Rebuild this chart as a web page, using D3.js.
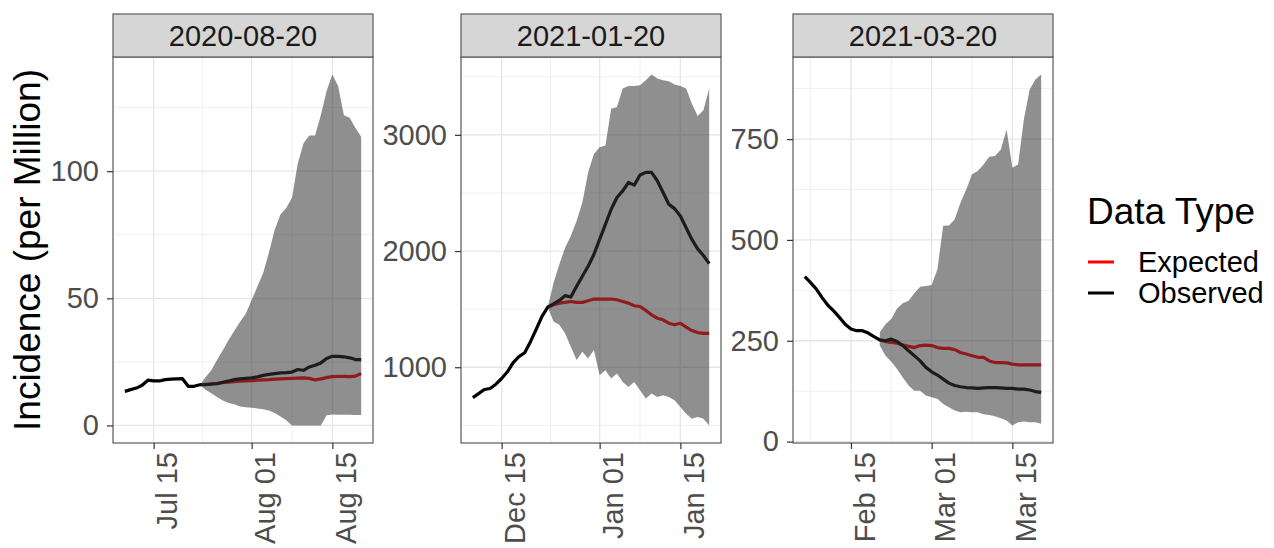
<!DOCTYPE html>
<html><head><meta charset="utf-8">
<script src="https://cdn.jsdelivr.net/npm/d3@7"></script>
<style>
body{margin:0;background:#fff}
svg text{font-family:"Liberation Sans",Arial,Helvetica,sans-serif}
</style>
</head><body>
<svg id="chart" width="1274" height="548"></svg>
<script>
// ---------------- DATA ----------------
const panelTitles = ["2020-08-20", "2021-01-20", "2021-03-20"];
const observedStart = ["2020-07-10", "2020-12-10", "2021-02-07"];
const forecastStart = ["2020-07-23", "2020-12-23", "2021-02-20"];
const seriesNames = ["Expected", "Observed"];
const legendTitle = "Data Type";
const yAxisTitle = "Incidence (per Million)";

const observed1 = [13.4,14.1,14.7,15.8,17.8,17.5,17.5,18.0,18.2,18.3,18.4,15.4,15.4,16.0,16.0,16.2,16.4,17.0,17.5,18.0,18.3,18.5,18.7,19.1,19.7,20.1,20.4,20.7,20.8,21.0,22.0,21.7,23.0,23.7,24.6,26.3,27.2,27.2,27.0,26.6,25.9,25.9];
const expected1 = [16.0,16.2,16.4,16.6,16.8,17.0,17.2,17.4,17.5,17.6,17.8,17.9,18.0,18.2,18.3,18.4,18.5,18.6,18.7,18.5,17.9,18.3,18.8,19.2,19.3,19.3,19.2,19.4,20.4];
const upper1 = [15.8,19,21.7,25.7,29.6,33.6,37.2,40.8,44,49.3,54.6,60,68,77,83,85.5,89.5,103,111,114,114,122,131.5,138,133.5,122,121,117,113.5];
const lower1 = [16,14,12.7,11.2,9.8,8.8,8.3,7.5,7.2,7,6.7,6.4,5.9,4.9,3.5,2,0,0,0,0,0,0,4,4.3,4.2,4.2,4.2,4.1,4.1];

const observed2 = [739,773,808,817,854,903,961,1039,1091,1125,1220,1327,1437,1517,1546,1575,1616,1604,1696,1783,1869,1970,2100,2230,2360,2461,2518,2590,2567,2654,2677,2677,2605,2504,2403,2365,2302,2201,2100,2019,1962,1892];
const expected2 = [1517,1538,1552,1558,1566,1558,1558,1572,1587,1587,1587,1587,1581,1566,1552,1529,1523,1489,1451,1422,1408,1379,1365,1379,1345,1316,1298,1292,1292];
const upper2 = [1517,1725,1884,2028,2129,2259,2417,2677,2836,2893,2908,3225,3239,3398,3421,3421,3427,3470,3519,3485,3470,3461,3433,3421,3398,3268,3162,3211,3398];
const lower2 = [1517,1393,1365,1292,1177,1062,1134,1076,1148,932,975,903,946,874,831,874,802,730,773,744,759,744,716,658,600,557,571,557,499];

const observed3 = [409,394,378,357,338,324,308,291,279,275,275,269,260,252,250,254,248,238,225,213,200,184,173,165,155,145,139,136,134,133,132,133,134,134,133,132,132,130,130,128,124,122];
const expected3 = [252,248,246,244,239,236,233,238,239,238,233,231,231,228,221,217,213,209,209,200,196,196,195,192,190,190,190,190,190];
const upper3 = [271,291,304,330,343,349,368,384,386,388,427,535,536,551,592,625,663,671,687,706,708,724,774,679,687,799,873,898,910];
const lower3 = [238,213,198,180,159,139,126,126,114,110,106,93,85,77,73,74,73,73,68,66,63,58,52,40,48,50,48,48,44];

const yTicks1 = [0, 50, 100];
const yTicks2 = [1000, 2000, 3000];
const yTicks3 = [0, 250, 500, 750];
const xBreaks1 = ["2020-07-01","2020-07-15","2020-08-01","2020-08-15","2020-09-01"];
const xBreaks2 = ["2020-12-01","2020-12-15","2021-01-01","2021-01-15","2021-02-01"];
const xBreaks3 = ["2021-02-01","2021-02-15","2021-03-01","2021-03-15","2021-04-01"];

// ---------------- LAYOUT ----------------
const W = 1274, H = 548;
const panelLeft = [113, 461, 793];
const panelW = 260;
const plotTop = 57, plotBottom = 443, stripTop = 14;
const smallFont = 29, bigFont = 37;
const colExpected = "#FF0000", colObserved = "#000000";

const svg = d3.select("#chart");
const parse = d3.utcParse("%Y-%m-%d");
const fmt = d3.utcFormat("%b %d");

const panelData = [
  {obs: observed1, exp: expected1, up: upper1, lo: lower1, yt: yTicks1, xb: xBreaks1},
  {obs: observed2, exp: expected2, up: upper2, lo: lower2, yt: yTicks2, xb: xBreaks2},
  {obs: observed3, exp: expected3, up: upper3, lo: lower3, yt: yTicks3, xb: xBreaks3}
];

panelData.forEach((p, i) => {
  const L = panelLeft[i], R = L + panelW;
  const s0 = parse(observedStart[i]);
  const f0 = parse(forecastStart[i]);
  const obsPts = p.obs.map((v, k) => ({d: d3.utcDay.offset(s0, k), v}));
  const fcPts = p.exp.map((v, k) => ({d: d3.utcDay.offset(f0, k), v, hi: p.up[k], lo: p.lo[k]}));
  const allDates = obsPts.map(o => o.d).concat(fcPts.map(o => o.d));
  const dMin = d3.min(allDates), dMax = d3.max(allDates);
  const span = dMax - dMin;
  const x = d3.scaleUtc().domain([new Date(+dMin - 0.05 * span), new Date(+dMax + 0.05 * span)]).range([L, R]);
  const allV = p.obs.concat(p.exp, p.up, p.lo);
  const vMin = d3.min(allV), vMax = d3.max(allV), vr = vMax - vMin;
  const y = d3.scaleLinear().domain([vMin - 0.05 * vr, vMax + 0.05 * vr]).range([plotBottom, plotTop]);

  const clipId = "clip" + i;
  svg.append("clipPath").attr("id", clipId).append("rect")
    .attr("x", L).attr("y", plotTop).attr("width", panelW).attr("height", plotBottom - plotTop);

  const g = svg.append("g");
  const inner = g.append("g").attr("clip-path", `url(#${clipId})`);

  // minor y grid
  const step = p.yt[1] - p.yt[0];
  const yMinor = [p.yt[0] - step / 2].concat(p.yt.map(t => t + step / 2))
    .filter(v => v >= y.domain()[0] && v <= y.domain()[1]);
  inner.selectAll(".ymin").data(yMinor).join("line")
    .attr("x1", L).attr("x2", R).attr("y1", d => y(d)).attr("y2", d => y(d))
    .attr("stroke", "#f0f0f0").attr("stroke-width", 1);
  // minor x grid
  const br = p.xb.map(parse);
  const xMinor = d3.pairs(br).map(([a, b]) => new Date((+a + +b) / 2))
    .filter(d => d >= x.domain()[0] && d <= x.domain()[1]);
  inner.selectAll(".xmin").data(xMinor).join("line")
    .attr("x1", d => x(d)).attr("x2", d => x(d)).attr("y1", plotTop).attr("y2", plotBottom)
    .attr("stroke", "#f0f0f0").attr("stroke-width", 1);
  // major grid
  inner.selectAll(".ymaj").data(p.yt).join("line")
    .attr("x1", L).attr("x2", R).attr("y1", d => y(d)).attr("y2", d => y(d))
    .attr("stroke", "#e6e6e6").attr("stroke-width", 1.3);
  const xMajor = br.filter(d => d >= x.domain()[0] && d <= x.domain()[1]);
  inner.selectAll(".xmaj").data(xMajor).join("line")
    .attr("x1", d => x(d)).attr("x2", d => x(d)).attr("y1", plotTop).attr("y2", plotBottom)
    .attr("stroke", "#e6e6e6").attr("stroke-width", 1.3);

  // lines
  const line = d3.line().x(d => x(d.d)).y(d => y(d.v));
  inner.append("path").datum(fcPts).attr("d", line)
    .attr("fill", "none").attr("stroke", colExpected).attr("stroke-width", 3.2)
    .attr("stroke-linejoin", "round").attr("stroke-linecap", "butt");
  inner.append("path").datum(obsPts).attr("d", line)
    .attr("fill", "none").attr("stroke", colObserved).attr("stroke-width", 3.2)
    .attr("stroke-linejoin", "round").attr("stroke-linecap", "butt");

  // ribbon on top (semi-transparent)
  const area = d3.area().x(d => x(d.d)).y0(d => y(d.lo)).y1(d => y(d.hi));
  inner.append("path").datum(fcPts).attr("d", area)
    .attr("fill", "#333333").attr("fill-opacity", 0.55);

  // panel border
  g.append("rect").attr("x", L).attr("y", plotTop).attr("width", panelW).attr("height", plotBottom - plotTop)
    .attr("fill", "none").attr("stroke", "#5a5a5a").attr("stroke-width", 1.2);

  // strip
  g.append("rect").attr("x", L).attr("y", stripTop).attr("width", panelW).attr("height", plotTop - stripTop)
    .attr("fill", "#d6d6d6").attr("stroke", "#5a5a5a").attr("stroke-width", 1.2);
  g.append("text").attr("x", (L + R) / 2).attr("y", (stripTop + plotTop) / 2)
    .attr("text-anchor", "middle").attr("dominant-baseline", "central")
    .attr("font-size", smallFont).attr("fill", "#1a1a1a").text(panelTitles[i]);

  // y axis
  const ya = g.append("g").attr("transform", `translate(${L},0)`)
    .call(d3.axisLeft(y).tickValues(p.yt).tickFormat(d3.format("d")).tickSize(6).tickPadding(8));
  ya.select(".domain").remove();
  ya.selectAll(".tick line").attr("stroke", "#333").attr("stroke-width", 1.2);
  ya.selectAll(".tick text").attr("font-size", smallFont).attr("fill", "#4d4d4d")
    .attr("font-family", "Liberation Sans, Arial, sans-serif");

  // x axis
  const xa = g.append("g").attr("transform", `translate(0,${plotBottom})`)
    .call(d3.axisBottom(x).tickValues(xMajor).tickFormat(fmt).tickSize(6));
  xa.select(".domain").remove();
  xa.selectAll(".tick line").attr("stroke", "#333").attr("stroke-width", 1.2);
  xa.selectAll(".tick text").attr("font-size", smallFont).attr("fill", "#4d4d4d")
    .attr("font-family", "Liberation Sans, Arial, sans-serif")
    .attr("transform", "rotate(-90)").attr("x", -9).attr("y", 0).attr("dy", "0.8em")
    .attr("text-anchor", "end");
});

// y axis title
svg.append("text").attr("transform", `translate(40,${(plotTop + plotBottom) / 2}) rotate(-90)`)
  .attr("text-anchor", "middle").attr("font-size", bigFont).attr("fill", "#000").text(yAxisTitle);

// legend
const lg = svg.append("g");
lg.append("text").attr("x", 1087).attr("y", 224).attr("font-size", bigFont).attr("fill", "#000").text(legendTitle);
const legY = [262, 293];
const legCol = [colExpected, colObserved];
seriesNames.forEach((name, k) => {
  lg.append("line").attr("x1", 1088).attr("x2", 1114).attr("y1", legY[k]).attr("y2", legY[k])
    .attr("stroke", legCol[k]).attr("stroke-width", 3);
  lg.append("text").attr("x", 1138).attr("y", legY[k]).attr("dominant-baseline", "central")
    .attr("font-size", smallFont).attr("fill", "#000").text(name);
});
</script>
</body></html>
